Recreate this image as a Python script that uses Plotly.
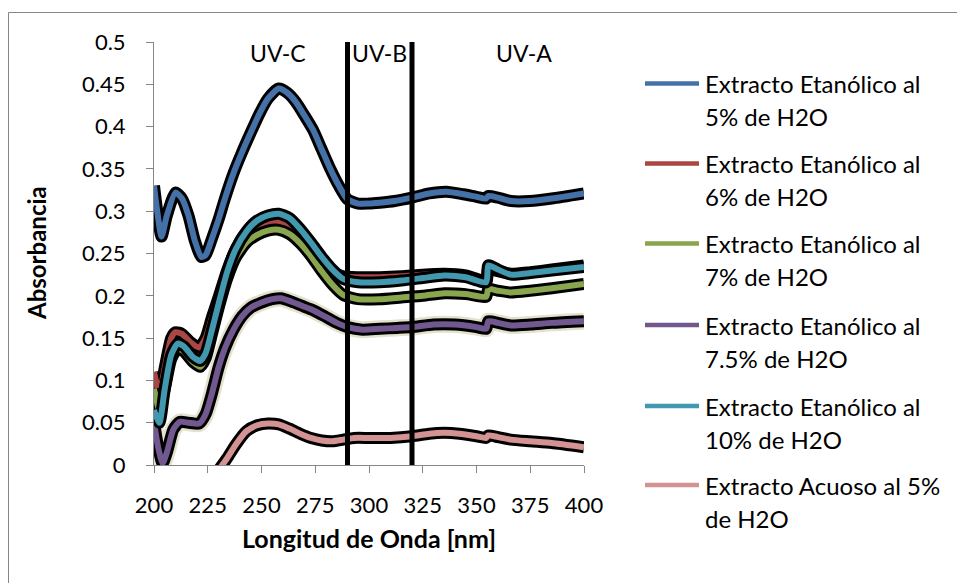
import plotly.graph_objects as go

# ---------------- data ----------------
series_line1 = ["Extracto Etanólico al", "Extracto Etanólico al", "Extracto Etanólico al",
                "Extracto Etanólico al", "Extracto Etanólico al", "Extracto Acuoso al 5%"]
series_line2 = ["5% de H2O", "6% de H2O", "7% de H2O", "7.5% de H2O", "10% de H2O", "de H2O"]
series_colors = ["#4472A8", "#AA4643", "#89A54E", "#71588F", "#4198AF", "#D39392"]

wl_5 = [200, 201.5, 203.5, 206, 210, 213, 216, 219, 222, 224, 227, 230, 233, 237, 241, 245, 249, 253,
        258, 262, 266, 270, 274, 278, 282, 286, 290, 295, 300, 305, 312, 320, 328, 336, 344, 350,
        354.5, 355.5, 360, 366, 375, 385, 400]
abs_5 = [0.33, 0.30, 0.27, 0.295, 0.322, 0.315, 0.295, 0.265, 0.246, 0.248, 0.268, 0.29, 0.315, 0.345,
         0.37, 0.393, 0.415, 0.433, 0.445, 0.44, 0.429, 0.413, 0.396, 0.373, 0.35, 0.33, 0.314, 0.309,
         0.309, 0.31, 0.312, 0.316, 0.321, 0.323, 0.32, 0.317, 0.315, 0.318, 0.316, 0.312, 0.312, 0.315,
         0.321]

wl_6 = [200, 202.5, 205, 208, 210, 213, 217, 221, 224, 227, 230, 234, 238, 243, 248, 253, 258, 263, 268,
        273, 278, 283, 288, 295, 305, 315, 325, 335, 345, 354.5, 355.5, 360, 366, 375, 385, 400]
abs_6 = [0.11, 0.085, 0.115, 0.15, 0.157, 0.155, 0.145, 0.139, 0.15, 0.175, 0.198, 0.23, 0.255, 0.275,
         0.283, 0.287, 0.288, 0.283, 0.27, 0.255, 0.24, 0.228, 0.223, 0.222, 0.222, 0.223, 0.225, 0.226,
         0.224, 0.218, 0.232, 0.229, 0.226, 0.228, 0.231, 0.236]

wl_7 = [200, 202.5, 205, 208, 211, 214, 218, 221.5, 224, 227, 230, 234, 238, 243, 248, 253, 258, 263, 268,
        273, 278, 283, 288, 295, 305, 315, 325, 335, 345, 354.5, 355.5, 360, 366, 375, 385, 400]
abs_7 = [0.09, 0.065, 0.09, 0.125, 0.1375, 0.134, 0.122, 0.116, 0.126, 0.155, 0.185, 0.22, 0.245, 0.263,
         0.272, 0.277, 0.278, 0.273, 0.262, 0.247, 0.229, 0.213, 0.201, 0.196, 0.196, 0.198, 0.2, 0.203,
         0.202, 0.199, 0.208, 0.206, 0.204, 0.206, 0.209, 0.214]

wl_75 = [200, 202, 204, 206, 209, 212, 216, 221, 224, 227, 230, 233, 237, 241, 245, 250, 255, 259, 264,
         269, 274, 280, 285, 290, 297, 305, 313, 320, 330, 340, 350, 354.5, 355.5, 360, 366, 375, 385, 400]
abs_75 = [0.05, 0.02, 0.002, 0.015, 0.042, 0.051, 0.05, 0.049, 0.06, 0.085, 0.115, 0.138, 0.16, 0.176,
          0.186, 0.192, 0.196, 0.197, 0.193, 0.188, 0.183, 0.175, 0.168, 0.163, 0.16, 0.161, 0.162, 0.163,
          0.166, 0.166, 0.163, 0.161, 0.17, 0.168, 0.165, 0.166, 0.168, 0.17]

wl_10 = [200, 202.5, 205, 208, 211, 214, 218, 221.5, 224, 227, 230, 234, 238, 243, 248, 253, 258, 263,
         268, 273, 278, 283, 288, 295, 305, 315, 325, 335, 345, 354.5, 355.5, 360, 366, 375, 385, 400]
abs_10 = [0.065, 0.05, 0.09, 0.13, 0.1435, 0.14, 0.128, 0.123, 0.132, 0.16, 0.19, 0.228, 0.255, 0.276,
          0.289, 0.295, 0.297, 0.292, 0.279, 0.263, 0.246, 0.231, 0.22, 0.216, 0.216, 0.218, 0.221, 0.224,
          0.222, 0.216, 0.236, 0.231, 0.225, 0.227, 0.23, 0.234]

wl_aq = [215, 220, 225, 230, 234, 238, 243, 248, 253, 258, 263, 268, 273, 278, 283, 288, 293, 300, 310,
         320, 328, 335, 342, 350, 354.5, 355.5, 360, 366, 375, 385, 400]
abs_aq = [-0.06, -0.04, -0.022, -0.006, 0.008, 0.024, 0.04, 0.047, 0.049, 0.048, 0.043, 0.037, 0.032,
          0.029, 0.028, 0.03, 0.032, 0.032, 0.032, 0.034, 0.037, 0.038, 0.037, 0.034, 0.032, 0.035, 0.033,
          0.03, 0.028, 0.026, 0.021]

uv_bounds = [290, 320]
uv_labels = ["UV-C", "UV-B", "UV-A"]
uv_label_x = [257.5, 304.7, 372.2]
uv_label_y = 0.487

x_ticks = [200, 225, 250, 275, 300, 325, 350, 375, 400]
y_ticks = [0, 0.05, 0.1, 0.15, 0.2, 0.25, 0.3, 0.35, 0.4, 0.45, 0.5]
y_tick_text = ["0", "0.05", "0.1", "0.15", "0.2", "0.25", "0.3", "0.35", "0.4", "0.45", "0.5"]

x_title = "Longitud de Onda [nm]"
y_title = "Absorbancia"

xs = [wl_5, wl_6, wl_7, wl_75, wl_10, wl_aq]
ys = [abs_5, abs_6, abs_7, abs_75, abs_10, abs_aq]

FONT = "Lato, Carlito, Calibri, sans-serif"

# layout geometry (pixels)
W, H = 957, 583
ML, MR, MT, MB = 154, 373, 42, 118
PW, PH = W - ML - MR, H - MT - MB


def px_x(p):
    return (p - ML) / PW


def px_y(p):
    return (H - MB - p) / PH


fig = go.Figure()

# beige glow under the 7.5% series
fig.add_trace(go.Scatter(x=wl_75, y=abs_75, mode="lines", showlegend=False, hoverinfo="skip",
                         line=dict(color="rgba(221,217,195,0.8)", width=17, shape="spline", smoothing=0.6)))

for i, (x, y) in enumerate(zip(xs, ys)):
    fig.add_trace(go.Scatter(x=x, y=y, mode="lines", showlegend=False, hoverinfo="skip",
                             line=dict(color="black", width=12, shape="spline", smoothing=0.6)))
    fig.add_trace(go.Scatter(x=x, y=y, mode="lines", name=series_line1[i] + " " + series_line2[i],
                             showlegend=False,
                             line=dict(color=series_colors[i], width=6, shape="spline", smoothing=0.6)))

shapes = []
for b in uv_bounds:
    shapes.append(dict(type="line", xref="x", yref="paper", x0=b, x1=b, y0=0, y1=1,
                       line=dict(color="black", width=5), layer="above"))
# chart border (right/bottom edges fall outside the picture)
shapes.append(dict(type="rect", xref="paper", yref="paper", x0=px_x(8.5), x1=px_x(990), y0=px_y(620),
                   y1=px_y(12.5), line=dict(color="#868686", width=1), layer="below"))

annotations = []
for lab, lx in zip(uv_labels, uv_label_x):
    annotations.append(dict(x=lx, y=uv_label_y, xref="x", yref="y", text=lab, showarrow=False,
                            font=dict(family=FONT, size=23, color="black"), xanchor="center", yanchor="middle"))
annotations.append(dict(x=0.5, y=px_y(538), xref="paper", yref="paper", text=f"<b>{x_title}</b>",
                        showarrow=False, font=dict(family=FONT, size=25, color="black"),
                        xanchor="center", yanchor="middle"))
annotations.append(dict(x=px_x(36), y=px_y(253), xref="paper", yref="paper", text=f"<b>{y_title}</b>",
                        showarrow=False, textangle=-90, font=dict(family=FONT, size=24, color="black"),
                        xanchor="center", yanchor="middle"))

# legend (drawn manually so its spacing matches)
legend_y = [83.5, 163.5, 243.5, 325, 406, 485]
line_gap = 33
for i, ly in enumerate(legend_y):
    shapes.append(dict(type="line", xref="paper", yref="paper", x0=px_x(645), x1=px_x(699),
                       y0=px_y(ly), y1=px_y(ly), line=dict(color=series_colors[i], width=4.5)))
    annotations.append(dict(x=px_x(703), y=px_y(ly), xref="paper", yref="paper", text=series_line1[i],
                            showarrow=False, xanchor="left", yanchor="middle",
                            font=dict(family=FONT, size=24, color="black")))
    annotations.append(dict(x=px_x(703), y=px_y(ly + line_gap), xref="paper", yref="paper",
                            text=series_line2[i], showarrow=False, xanchor="left", yanchor="middle",
                            font=dict(family=FONT, size=24, color="black")))

fig.update_layout(
    width=W, height=H,
    margin=dict(l=ML, r=MR, t=MT, b=MB),
    paper_bgcolor="white", plot_bgcolor="white",
    font=dict(family=FONT, size=21, color="black"),
    xaxis=dict(range=[200, 400], tickvals=x_ticks, showgrid=False, zeroline=False, showline=True,
               linecolor="#868686", linewidth=1, ticks="outside", ticklen=7, tickcolor="#868686",
               tickfont=dict(family=FONT, size=22, color="black"), ticklabelstandoff=14),
    yaxis=dict(range=[0, 0.5], tickvals=y_ticks, ticktext=y_tick_text, showgrid=False, zeroline=False,
               showline=True, linecolor="#868686", linewidth=1, ticks="outside", ticklen=7,
               tickcolor="#868686", tickfont=dict(family=FONT, size=22, color="black"),
               ticklabelstandoff=16),
    shapes=shapes,
    annotations=annotations,
    showlegend=False,
)

fig.write_html("out.html")
